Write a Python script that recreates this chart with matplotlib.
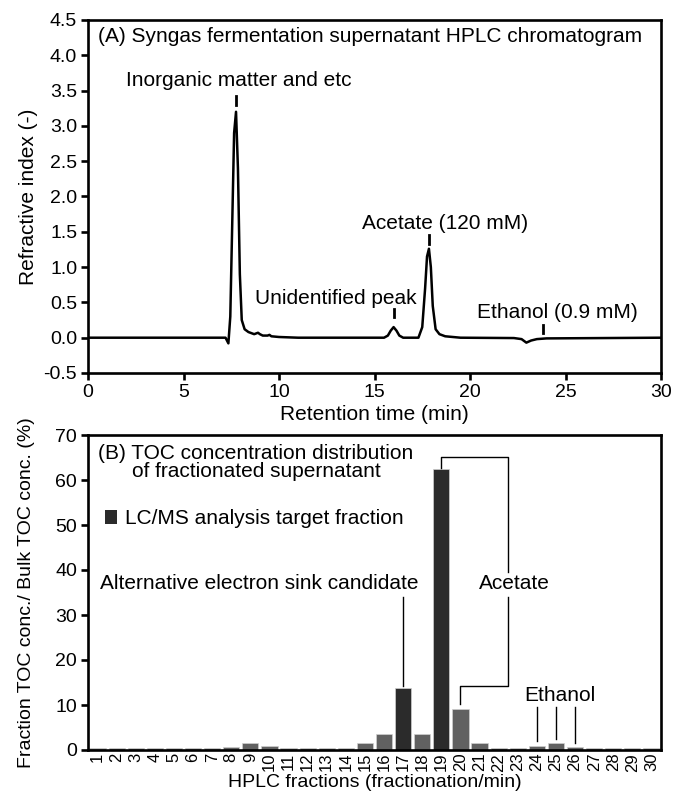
import matplotlib
matplotlib.use("Agg")
import matplotlib.pyplot as plt
import numpy as np

plt.rcParams['font.family'] = ['Liberation Sans', 'DejaVu Sans']
plt.rcParams['font.size'] = 15

# (A) chromatogram
rt_min = [0, 7.2, 7.35, 7.45, 7.55, 7.65, 7.75, 7.85, 7.95, 8.05, 8.2, 8.4,
          8.7, 8.9, 9.0, 9.15, 9.4, 9.5, 9.6, 10.0, 11.0, 15.5, 15.7, 15.85,
          16.0, 16.15, 16.3, 16.5, 17.3, 17.5, 17.65, 17.75, 17.85, 17.95,
          18.05, 18.2, 18.4, 18.7, 19.5, 22.3, 22.7, 22.95, 23.2, 23.5, 24.0, 30]
ri_signal = [0, 0, -0.08, 0.3, 1.6, 2.9, 3.2, 2.4, 0.9, 0.25, 0.12, 0.08,
             0.05, 0.07, 0.05, 0.03, 0.03, 0.04, 0.02, 0.01, 0.0, 0.0, 0.03, 0.1,
             0.15, 0.1, 0.03, 0.0, 0.0, 0.15, 0.7, 1.15, 1.26, 1.0,
             0.45, 0.12, 0.05, 0.02, 0.0, -0.005, -0.02, -0.07, -0.04, -0.02, -0.01, 0.0]

peak_labels = ["Inorganic matter and etc", "Unidentified peak",
               "Acetate (120 mM)", "Ethanol (0.9 mM)"]
peak_marks = [7.75, 16.0, 17.85, 23.8]

# (B) TOC distribution per fraction
fractions = list(range(1, 31))
toc_pct = [0.5, 0.5, 0.5, 0.5, 0.5, 0.5, 0.5, 0.7, 1.5, 1.0,
           0.5, 0.5, 0.5, 0.5, 1.5, 3.6, 13.8, 3.6, 62.4, 9.1,
           1.5, 0.5, 0.5, 1.0, 1.5, 0.7, 0.5, 0.5, 0.5, 0.5]
lcms_targets = [17, 19]

dark = '#2b2b2b'
grey = '#616161'

fig = plt.figure(figsize=(6.75, 7.94), dpi=100)
W, H = 675, 794
ax1 = fig.add_axes([88 / W, 1 - 373 / H, (661 - 88) / W, (373 - 20) / H])
ax2 = fig.add_axes([88 / W, 1 - 750 / H, (661 - 88) / W, (750 - 435) / H])

for ax in (ax1, ax2):
    for s in ax.spines.values():
        s.set_linewidth(1.9)
    ax.tick_params(direction='out', width=1.9, length=4.8, top=False, right=False,
                   labelsize=14, pad=3)

# --- panel A ---
ax1.plot(rt_min, ri_signal, color='black', lw=1.8)
ax1.set_xlim(0, 30)
ax1.set_ylim(-0.5, 4.5)
ax1.set_xticks(np.arange(0, 31, 5))
ax1.set_yticks(np.arange(-0.5, 4.6, 0.5))
ax1.yaxis.set_major_formatter(matplotlib.ticker.FormatStrFormatter('%.1f'))
ax1.set_xlabel('Retention time (min)')
ax1.set_ylabel('Refractive index (-)')
ax1.xaxis.set_label_coords(0.5, -(405 - 373) / 353)
ax1.yaxis.set_label_coords(-(88 - 38) / 573, 0.5)
ax1.text(0.5, 4.27, '(A) Syngas fermentation supernatant HPLC chromatogram',
         va='center', ha='left')

mark_lo = [3.3, 0.29, 1.33, 0.07]
mark_hi = [3.42, 0.41, 1.45, 0.18]
label_xy = [(7.9, 3.64), (13.0, 0.56), (18.7, 1.62), (24.55, 0.35)]
for lab, xm, lo, hi, (tx, ty) in zip(peak_labels, peak_marks, mark_lo, mark_hi, label_xy):
    ax1.plot([xm, xm], [lo, hi], color='black', lw=2)
    ax1.text(tx, ty, lab, ha='center', va='center')

# --- panel B ---
colors = [dark if f in lcms_targets else grey for f in fractions]
ax2.bar(fractions, toc_pct, width=0.85, color=colors, edgecolor='#d0d0d0', linewidth=0.5)
ax2.set_xlim(0.5, 30.5)
ax2.set_ylim(0, 70)
ax2.set_yticks(np.arange(0, 71, 10))
ax2.set_xticks(fractions)
ax2.set_xticklabels([str(f) for f in fractions], rotation=90, fontsize=12)
ax2.tick_params(axis='x', length=0, pad=2)
ax2.set_xlabel('HPLC fractions (fractionation/min)', fontsize=14)
ax2.set_ylabel('Fraction TOC conc./ Bulk TOC conc. (%)', fontsize=14)
ax2.xaxis.set_label_coords(0.5, -(774 - 750) / 315)
ax2.yaxis.set_label_coords(-(88 - 35) / 573, 0.5)

ax2.text(1.02, 66, '(B) TOC concentration distribution', va='center', ha='left')
ax2.text(2.8, 61.8, 'of fractionated supernatant', va='center', ha='left')
ax2.bar([1.7], [3.1], bottom=50.2, width=0.63, color=dark)
ax2.text(2.44, 51.5, 'LC/MS analysis target fraction', va='center', ha='left')

ax2.text(9.46, 37.1, 'Alternative electron sink candidate', ha='center', va='center')
ax2.plot([17, 17], [14.2, 34], color='black', lw=1)

ax2.text(22.8, 37.1, 'Acetate', ha='center', va='center')
ax2.plot([19, 19, 22.5, 22.5], [62.6, 65.1, 65.1, 39.5], color='black', lw=1)
ax2.plot([22.5, 22.5, 20, 20], [34, 14.2, 14.2, 10.2], color='black', lw=1)

ax2.text(25.2, 12.2, 'Ethanol', ha='center', va='center')
for f in (24, 25, 26):
    ax2.plot([f, f], [9.6, toc_pct[f - 1] + 0.9], color='black', lw=1)

fig.savefig('out.png', dpi=100)
